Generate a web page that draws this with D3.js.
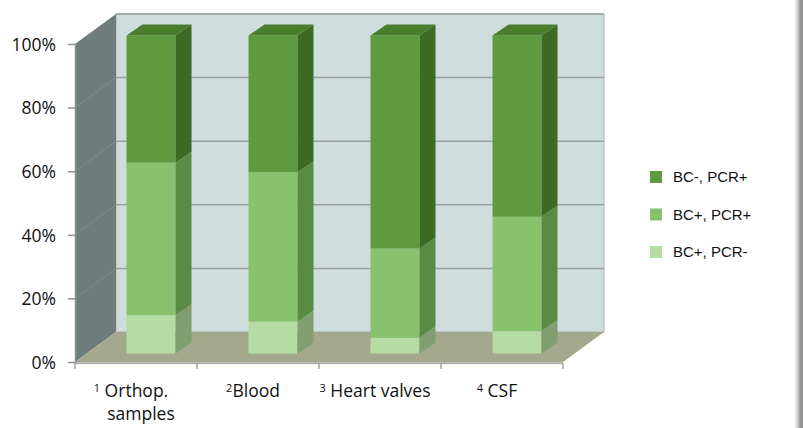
<!DOCTYPE html>
<html><head><meta charset="utf-8">
<script src="https://cdn.jsdelivr.net/npm/d3@7"></script>
<style>html,body{margin:0;padding:0;background:#fff;}svg{display:block;}</style>
</head><body>
<svg id="c" width="803" height="428"></svg>
<script>
const categories = ["Orthop.", "Blood", "Heart valves", "CSF"];
const categoryLine2 = ["samples", "", "", ""];
const superscripts = ["1", "2", "3", "4"];
const seriesNames = ["BC-, PCR+", "BC+, PCR+", "BC+, PCR-"];
const bcPlusPcrMinus = [12, 10, 5, 7];
const bcPlusPcrPlus = [48, 47, 28, 36];
const bcMinusPcrPlus = [40, 43, 67, 57];
const yTicks = [0, 20, 40, 60, 80, 100];

const svg = d3.select("#c");
const depth = {dx: 41, dy: -30};
const y = d3.scaleLinear().domain([0, 100]).range([362, 44]);
const x = d3.scaleBand().domain(categories).range([75, 563]).padding(0);
const bw = x.bandwidth();
const barW = 49, barOff = {dx: 15, dy: -8.5}, barDepth = {dx: 16, dy: -11};

const pts = a => a.map(p => p.join(",")).join(" ");
const x0 = 75, x1 = 563;

// back wall
svg.append("polygon").attr("points", pts([[x0+depth.dx, y(100)+depth.dy],[x1+depth.dx, y(100)+depth.dy],[x1+depth.dx, y(0)+depth.dy],[x0+depth.dx, y(0)+depth.dy]]))
  .attr("fill", "#d0dddd").attr("stroke", "#a9b2b2").attr("stroke-width", 1);
// back gridlines
svg.selectAll(".bg").data(yTicks.slice(1)).enter().append("line")
  .attr("x1", x0+depth.dx).attr("x2", x1+depth.dx)
  .attr("y1", d => y(d)+depth.dy).attr("y2", d => y(d)+depth.dy)
  .attr("stroke", "#9aa1a2").attr("stroke-width", 1.5);
// left wall
svg.append("polygon").attr("points", pts([[x0, y(0)],[x0, y(100)],[x0+depth.dx, y(100)+depth.dy],[x0+depth.dx, y(0)+depth.dy]]))
  .attr("fill", "#6f7c7c");
svg.selectAll(".lg").data(yTicks.slice(1, 5)).enter().append("line")
  .attr("x1", x0).attr("x2", x0+depth.dx)
  .attr("y1", d => y(d)).attr("y2", d => y(d)+depth.dy)
  .attr("stroke", "#7f8c8c").attr("stroke-width", 1);
// floor
svg.append("polygon").attr("points", pts([[x0, y(0)],[x0+depth.dx, y(0)+depth.dy],[x1+depth.dx, y(0)+depth.dy],[x1, y(0)]]))
  .attr("fill", "#a4a88c");
svg.append("line").attr("x1", x0).attr("x2", x1).attr("y1", y(0)+1.5).attr("y2", y(0)+1.5)
  .attr("stroke", "#c9cbbd").attr("stroke-width", 1.5);

// bars
const stacks = categories.map((c, i) => {
  const vals = [bcPlusPcrMinus[i], bcPlusPcrPlus[i], bcMinusPcrPlus[i]];
  let acc = 0;
  return vals.map((v, k) => { const s = {cat: c, k, y0: acc, y1: acc + v}; acc += v; return s; });
});
const frontCol = ["#b5dca2", "#87c26c", "#5e9b3e"];
const sideCol = ["#809e6f", "#5a8b44", "#3d6b24"];
const topCol = ["#9cc48a", "#6fa558", "#4a7f2d"];

stacks.forEach(st => {
  const g = svg.append("g");
  const fx = x(st[0].cat) + bw/2 - barW/2 + barOff.dx;
  st.forEach((s, idx) => {
    const ya = y(s.y0) + barOff.dy, yb = y(s.y1) + barOff.dy;
    g.append("rect").attr("x", fx).attr("y", yb).attr("width", barW).attr("height", ya - yb).attr("fill", frontCol[s.k]);
    g.append("polygon").attr("points", pts([[fx+barW, ya],[fx+barW, yb],[fx+barW+barDepth.dx, yb+barDepth.dy],[fx+barW+barDepth.dx, ya+barDepth.dy]]))
      .attr("fill", sideCol[s.k]);
    if (idx === st.length - 1) {
      g.append("polygon").attr("points", pts([[fx, yb],[fx+barW, yb],[fx+barW+barDepth.dx, yb+barDepth.dy],[fx+barDepth.dx, yb+barDepth.dy]]))
        .attr("fill", topCol[s.k]);
    }
  });
});

// y axis
const yAxis = svg.append("g").attr("transform", `translate(${x0},0)`)
  .call(d3.axisLeft(y).tickValues(yTicks).tickFormat(d => d + "%").tickSize(7).tickSizeOuter(0));
yAxis.select(".domain").attr("stroke", "#8d9090").attr("stroke-width", 1.5);
yAxis.selectAll(".tick line").attr("stroke", "#8d9090").attr("stroke-width", 1.5);
yAxis.selectAll(".tick text").attr("font-family", "'Open Sans', sans-serif").attr("font-size", 17.5)
  .attr("fill", "#111").attr("x", -19).attr("dy", "0.36em");

// x axis
svg.append("line").attr("x1", x0).attr("x2", x1).attr("y1", y(0)+1).attr("y2", y(0)+1).attr("stroke", "#8d9090").attr("stroke-width", 1.2);
const bounds = categories.map(c => x(c)).concat([x1]);
svg.selectAll(".xt").data(bounds).enter().append("line")
  .attr("x1", d => d).attr("x2", d => d).attr("y1", y(0)+1).attr("y2", y(0)+7)
  .attr("stroke", "#8d9090").attr("stroke-width", 1.2);
categories.forEach((c, i) => {
  const t = svg.append("text").attr("x", x(c) + bw/2 - 5).attr("y", 397)
    .attr("text-anchor", "middle").attr("font-family", "'Open Sans', sans-serif").attr("font-size", 17.5).attr("fill", "#111");
  t.append("tspan").text(superscripts[i]).attr("font-size", 11).attr("dy", -5);
  t.append("tspan").text((i === 1 ? "" : " ") + c).attr("dy", 5);
  if (categoryLine2[i]) {
    svg.append("text").attr("x", x(c) + bw/2 + 5).attr("y", 420).attr("text-anchor", "middle")
      .attr("font-family", "'Open Sans', sans-serif").attr("font-size", 17.5).attr("fill", "#111").text(categoryLine2[i]);
  }
});

// legend
const legendColors = [frontCol[2], frontCol[1], frontCol[0]];
const lg = svg.selectAll(".leg").data(seriesNames).enter().append("g")
  .attr("transform", (d, i) => `translate(650, ${171 + i * 37.5})`);
lg.append("rect").attr("width", 12).attr("height", 12).attr("fill", (d, i) => legendColors[i]);
lg.append("text").attr("x", 23).attr("y", 11).attr("font-family", "'Liberation Sans', Arial, sans-serif")
  .attr("font-size", 15).attr("fill", "#111").text(d => d);

// right border
const defs = svg.append("defs");
const gr = defs.append("linearGradient").attr("id", "rb").attr("x1", 0).attr("x2", 1);
gr.append("stop").attr("offset", 0).attr("stop-color", "#f2f2f2");
gr.append("stop").attr("offset", 0.45).attr("stop-color", "#bdbdbd");
gr.append("stop").attr("offset", 0.6).attr("stop-color", "#9a9a9a");
gr.append("stop").attr("offset", 1).attr("stop-color", "#8e8e8e");
svg.append("rect").attr("x", 795).attr("y", 0).attr("width", 8).attr("height", 428).attr("fill", "url(#rb)");
</script>
</body></html>
